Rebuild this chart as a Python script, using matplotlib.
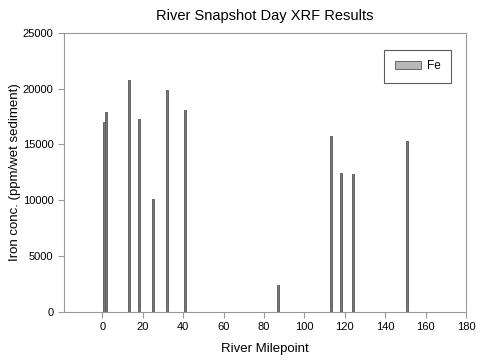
import matplotlib
matplotlib.use("Agg")
import matplotlib.pyplot as plt

plt.rcParams["font.family"] = ["Liberation Sans", "DejaVu Sans"]

# River milepoints and iron concentrations
milepoint = [1, 2, 13, 18, 25, 32, 41, 87, 113, 118, 124, 151]
iron = [17000, 17900, 20800, 17250, 10150, 19900, 18100, 2450, 15750, 12450, 12350, 15300]

fig = plt.figure(figsize=(5, 3.61), dpi=100)
ax = fig.add_axes([0.128, 0.136, 0.804, 0.773])

ax.bar(milepoint, iron, width=1.0, color="#7a7a7a", edgecolor="#555555",
       linewidth=0.6, label="Fe")

ax.set_xlim(-19, 180)
ax.set_ylim(0, 25000)
ax.set_xticks(range(0, 181, 20))
ax.set_yticks(range(0, 25001, 5000))

for s in ax.spines.values():
    s.set_color("#999999")
ax.tick_params(direction="out", length=4, color="#999999", labelsize=8)

ax.set_title("River Snapshot Day XRF Results", fontsize=10.5, pad=9)
ax.set_xlabel("River Milepoint", fontsize=9.5, labelpad=8)
ax.set_ylabel("Iron conc. (ppm/wet sediment)", fontsize=9.5, labelpad=1)

leg = ax.legend(loc="upper right", bbox_to_anchor=(0.963, 0.94), fontsize=8.5,
                frameon=True, fancybox=False, edgecolor="#333333",
                borderaxespad=0, handlelength=2.2, handleheight=0.6,
                handletextpad=0.5, borderpad=0.9)
leg.get_frame().set_linewidth(0.8)
leg.legend_handles[0].set_facecolor("#b8b8b8")

fig.savefig("out.png", dpi=100)
